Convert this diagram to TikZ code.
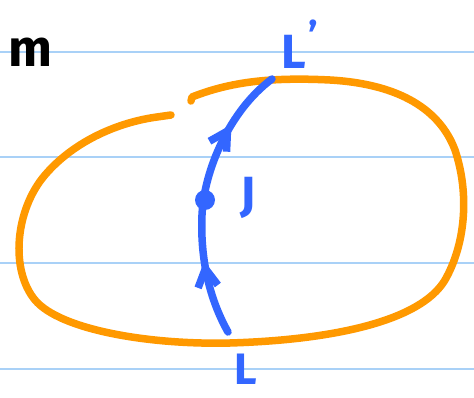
\documentclass[tikz,border=0pt]{standalone}
\usepackage{fontspec}
\setmainfont{Fira Sans}
\usetikzlibrary{arrows.meta,decorations.markings}
\definecolor{ruleblue}{HTML}{A9D1F7}
\definecolor{penblue}{HTML}{3366FF}
\definecolor{penorange}{HTML}{FF9900}
\tikzset{
  rule/.style={ruleblue, line width=2pt},
  orangepen/.style={penorange, line width=7.5pt, line cap=round, line join=round},
  bluepen/.style={penblue, line width=7.5pt, line cap=round, line join=round},
  lbl/.style={font=\fontsize{48}{48}\selectfont\bfseries, inner sep=0pt},
  chev/.style={decoration={markings,
     mark=at position 0.27 with {\arrow{Straight Barb[length=18pt,width=20pt]}},
     mark=at position 0.78 with {\arrow{Straight Barb[length=18pt,width=20pt]}}},
     postaction={decorate}}
}
\begin{document}
\begin{tikzpicture}[x=1pt,y=-1pt]
\useasboundingbox (0,0) rectangle (474,398);
\fill[white] (0,0) rectangle (474,398);
% ruled lines
\foreach \yy in {52,157,263,369} \draw[rule] (0,\yy) -- (474,\yy);
% label m
\node[lbl, black, font=\fontsize{52}{52}\selectfont\bfseries] (m) at (30,52) {m};
% orange closed loop with small gap
\draw[orangepen] (191,101) -- (192,97)
  .. controls (230,82) and (270,77) .. (330,80)
  .. controls (400,84) and (440,110) .. (455,150)
  .. controls (470,195) and (465,245) .. (445,280)
  .. controls (420,322) and (330,340) .. (230,343)
  .. controls (150,345) and (60,330) .. (35,300)
  .. controls (10,270) and (15,210) .. (45,175)
  .. controls (75,140) and (120,122) .. (157,117)
  -- (171,115);
% blue path from L to L'
\coordinate (bl) at (228,332);
\coordinate (bt) at (272,79);
\draw[bluepen, chev] (bl)
  .. controls (210,300) and (200,260) .. (202,215)
  .. controls (204,170) and (230,110) .. (bt);
% point J
\fill[penblue] (205,200) circle (10);
\node[lbl, penblue] (J) at (248,198) {J};
\node[lbl, penblue, font=\fontsize{44}{44}\selectfont\bfseries] (L) at (246,369) {L};
\node[lbl, penblue] (Lp) at (300,44) {L\raisebox{18pt}{\kern2pt\fontsize{40}{40}\selectfont '}};
\end{tikzpicture}
\end{document}
